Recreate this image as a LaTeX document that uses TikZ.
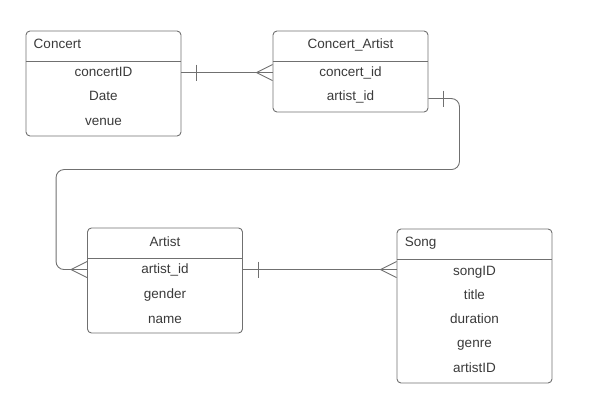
\documentclass[tikz,border=0pt]{standalone}
\usepackage{fontspec}
\setmainfont{Liberation Sans}
\usetikzlibrary{positioning}
\definecolor{linegray}{HTML}{707070}
\definecolor{textgray}{HTML}{3A3A3A}

\begin{document}
\begin{tikzpicture}[
		x=1pt, y=-1pt,
		entity/.style={draw=linegray, line width=0.9pt, rounded corners=4pt, inner sep=0pt, minimum width=155pt},
		divider/.style={draw=linegray, line width=0.9pt},
		rel/.style={draw=linegray, line width=0.9pt},
		field/.style={font=\fontsize{13.5}{16}\selectfont, text=textgray, inner sep=0pt, text height=10pt, text depth=3pt},
		title/.style={field},
		onebar/.pic={\draw[rel] (0,-8) -- (0,8);},
		crow/.pic={\draw[rel] (16,-8) -- (0,0) -- (16,8);}
		]
		\useasboundingbox (0,0) rectangle (603,406);
		
		% --- ENTITIES ---
		\node[entity, minimum height=105pt] (concert) at (103.5, 83.5) {};
		\node[entity, minimum height=81pt] (ca) at (350.5, 71.5) {};
		\node[entity, minimum height=105pt] (artist) at (165, 280.5) {};
		\node[entity, minimum height=154pt] (song) at (474.5, 306) {};
		
		% header lines
		\foreach \e in {concert, ca, artist, song} {
			\draw[divider] ([yshift=-30.5pt]\e.north west) -- ([yshift=-30.5pt]\e.north east);
		}
		
		% titles
		\node[title, anchor=west] (concert-t) at ([xshift=8pt, yshift=-14.5pt]concert.north west) {Concert};
		\node[title] (ca-t) at ([yshift=-14pt]ca.north) {Concert\_Artist};
		\node[title] (artist-t) at ([yshift=-15pt]artist.north) {Artist};
		\node[title, anchor=west] (song-t) at ([xshift=8pt, yshift=-14.5pt]song.north west) {Song};
		
		% --- ATTRIBUTES ---
		\foreach \f [count=\i] in {concertID, Date, venue} {
			\node[field] (concert\i) at ([yshift={-42pt-(\i-1)*24.5pt}]concert.north) {\f};
		}
		\foreach \f [count=\i] in {concert\_id, artist\_id} {
			\node[field] (ca\i) at ([yshift={-42pt-(\i-1)*24.5pt}]ca.north) {\f};
		}
		\foreach \f [count=\i] in {artist\_id, gender, name} {
			\node[field] (artist\i) at ([yshift={-42pt-(\i-1)*25pt}]artist.north) {\f};
		}
		\foreach \f [count=\i] in {songID, title, duration, genre, artistID} {
			\node[field] (song\i) at ([yshift={-43pt-(\i-1)*24.3pt}]song.north) {\f};
		}
		
		% --- RELATIONSHIPS ---
		% Concert -> Concert_Artist
		\coordinate (concert-r) at (concert.east |- concert1);
		\coordinate (ca-l) at (ca.west |- concert1);
		\draw[rel] (concert-r) -- (ca-l);
		\pic at ([xshift=15pt]concert-r) {onebar};
		\pic at ([xshift=-16pt]ca-l) {crow};
		
		% Concert_Artist -> Artist
		\coordinate (ca-r) at ([yshift=-1.5pt]ca.east |- ca2);
		\coordinate (artist-l) at (artist.west |- artist1);
		\draw[rel, rounded corners=8pt] (ca-r) -| ++(31,71) -| ([xshift=-31pt]artist-l) -- (artist-l);
		\pic at ([xshift=15pt]ca-r) {onebar};
		\pic at ([xshift=-16pt]artist-l) {crow};
		
		% Artist -> Song
		\coordinate (artist-r) at (artist.east |- artist1);
		\coordinate (song-l) at (song.west |- artist1);
		\draw[rel] (artist-r) -- (song-l);
		\pic at ([xshift=15pt]artist-r) {onebar};
		\pic at ([xshift=-16pt]song-l) {crow};
		
	\end{tikzpicture}
\end{document}
